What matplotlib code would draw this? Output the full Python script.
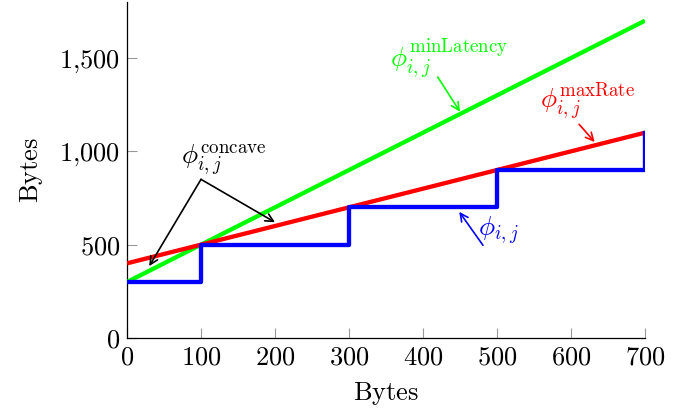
import matplotlib
matplotlib.use("Agg")
import matplotlib.pyplot as plt

plt.rcParams['mathtext.fontset'] = 'cm'
plt.rcParams['font.family'] = ['DejaVu Serif']

# data
line_x = [0, 700]
min_latency = [300, 1700]
max_rate = [400, 1100]
step_x = [0, 100, 300, 500, 700]
step_y = [300, 500, 700, 900, 1100]
xticks = [0, 100, 200, 300, 400, 500, 600, 700]
xticklabels = ['0', '100', '200', '300', '400', '500', '600', '700']
yticks = [0, 500, 1000, 1500]
yticklabels = ['0', '500', '1{,}000', '1{,}500']

fig = plt.figure(figsize=(6.93, 4.08), dpi=100)
ax = fig.add_axes([0.1833, 0.1716, 0.7474, 0.8234])

ax.plot(line_x, min_latency, color=(0, 1, 0), lw=3.1, solid_capstyle='butt', zorder=3)
ax.plot(line_x, max_rate, color=(1, 0, 0), lw=3.1, solid_capstyle='butt', zorder=3)
ax.plot(step_x, step_y, color=(0, 0, 1), lw=3.1, drawstyle='steps-post', zorder=4)

ax.set_xlim(0, 700)
ax.set_ylim(0, 1800)
ax.set_xticks(xticks)
ax.set_xticklabels(['$%s$' % t for t in xticklabels])
ax.set_yticks(yticks)
ax.set_yticklabels(['$%s$' % t for t in yticklabels])
ax.tick_params(direction='in', length=7, width=0.8, color='#999999', labelsize=19, pad=5)
for s in ['top', 'right']:
    ax.spines[s].set_visible(False)
for s in ['left', 'bottom']:
    ax.spines[s].set_linewidth(0.9)
ax.set_xlabel(r'$\mathrm{Bytes}$', fontsize=19, labelpad=7)
ax.set_ylabel(r'$\mathrm{Bytes}$', fontsize=19, labelpad=10)

arrow_k = dict(arrowstyle='->', color='black', lw=1.2, shrinkA=0, shrinkB=0, mutation_scale=14)
ax.annotate('', xy=(30, 385), xytext=(100, 850), arrowprops=arrow_k)
ax.annotate('', xy=(200, 620), xytext=(100, 850), arrowprops=arrow_k)
ax.text(73, 860, r'$\phi_{i,j}^{\mathrm{concave}}$', fontsize=19.5, color='black', ha='left', va='bottom')

arrow_g = dict(arrowstyle='->', color=(0, 1, 0), lw=1.2, shrinkA=0, shrinkB=0, mutation_scale=14)
ax.annotate('', xy=(450, 1212), xytext=(420, 1398), arrowprops=arrow_g)
ax.text(356, 1375, r'$\phi_{i,j}^{\mathrm{minLatency}}$', fontsize=19.5, color=(0, 1, 0), ha='left', va='bottom')

arrow_r = dict(arrowstyle='->', color=(1, 0, 0), lw=1.2, shrinkA=0, shrinkB=0, mutation_scale=14)
ax.annotate('', xy=(632, 1050), xytext=(611, 1145), arrowprops=arrow_r)
ax.text(558, 1155, r'$\phi_{i,j}^{\mathrm{maxRate}}$', fontsize=19.5, color=(1, 0, 0), ha='left', va='bottom')

arrow_b = dict(arrowstyle='->', color=(0, 0, 1), lw=1.2, shrinkA=0, shrinkB=0, mutation_scale=14)
ax.annotate('', xy=(449, 676), xytext=(481, 497), arrowprops=arrow_b)
ax.text(474, 495, r'$\phi_{i,j}$', fontsize=19.5, color=(0, 0, 1), ha='left', va='bottom')

fig.savefig('out.png', dpi=100)
